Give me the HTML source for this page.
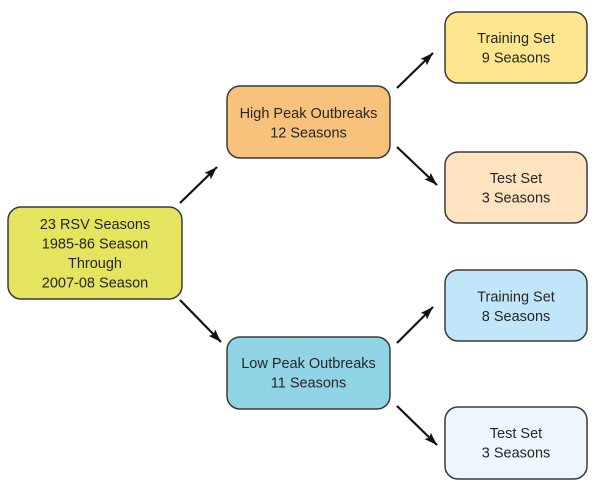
<!DOCTYPE html>
<html>
<head>
<meta charset="utf-8">
<style>
  html,body{margin:0;padding:0;background:#fff;}
  svg{display:block;}
  text{font-family:"Liberation Sans",sans-serif;font-size:14.5px;fill:#262626;text-anchor:middle;}
</style>
</head>
<body>
<svg width="600" height="493" viewBox="0 0 600 493" xmlns="http://www.w3.org/2000/svg">
  <defs>
    <marker id="ah" markerUnits="userSpaceOnUse" markerWidth="14" markerHeight="12" refX="13" refY="5" orient="auto">
      <path d="M0,0.5 L13,5 L0,9.5 L2.5,5 Z" fill="#111"/>
    </marker>
  </defs>
  <rect x="0" y="0" width="600" height="493" fill="#fff"/>

  <!-- arrows -->
  <g stroke="#111" stroke-width="2.2" fill="none">
    <line x1="180" y1="203" x2="217" y2="167" marker-end="url(#ah)"/>
    <line x1="180" y1="300" x2="221" y2="342" marker-end="url(#ah)"/>
    <line x1="397" y1="88" x2="433" y2="53" marker-end="url(#ah)"/>
    <line x1="397" y1="147" x2="437" y2="185" marker-end="url(#ah)"/>
    <line x1="397" y1="343" x2="433" y2="307" marker-end="url(#ah)"/>
    <line x1="397" y1="406" x2="437" y2="445" marker-end="url(#ah)"/>
  </g>

  <!-- boxes -->
  <g stroke="#3a3a3a" stroke-width="1.5">
    <rect x="8" y="207" width="174" height="92" rx="13" fill="#e4e45e"/>
    <rect x="227" y="86" width="163" height="72" rx="13" fill="#f9c27c"/>
    <rect x="445" y="12" width="142" height="71" rx="13" fill="#fde68d"/>
    <rect x="445" y="152" width="142" height="71" rx="13" fill="#fde3bf"/>
    <rect x="227" y="337" width="163" height="72" rx="13" fill="#91d4e6"/>
    <rect x="445" y="270" width="142" height="71" rx="13" fill="#c1e6f9"/>
    <rect x="445" y="407" width="142" height="72" rx="13" fill="#eef6fd"/>
  </g>

  <!-- labels -->
  <text x="95" y="229">23 RSV Seasons</text>
  <text x="95" y="248.5">1985-86 Season</text>
  <text x="95" y="268">Through</text>
  <text x="95" y="287.5">2007-08 Season</text>

  <text x="308.5" y="118">High Peak Outbreaks</text>
  <text x="308.5" y="137.5">12 Seasons</text>

  <text x="516" y="43">Training Set</text>
  <text x="516" y="62.5">9 Seasons</text>

  <text x="516" y="183">Test Set</text>
  <text x="516" y="202.5">3 Seasons</text>

  <text x="308.5" y="368">Low Peak Outbreaks</text>
  <text x="308.5" y="387.5">11 Seasons</text>

  <text x="516" y="301.5">Training Set</text>
  <text x="516" y="321">8 Seasons</text>

  <text x="516" y="438">Test Set</text>
  <text x="516" y="457.5">3 Seasons</text>
</svg>
</body>
</html>
